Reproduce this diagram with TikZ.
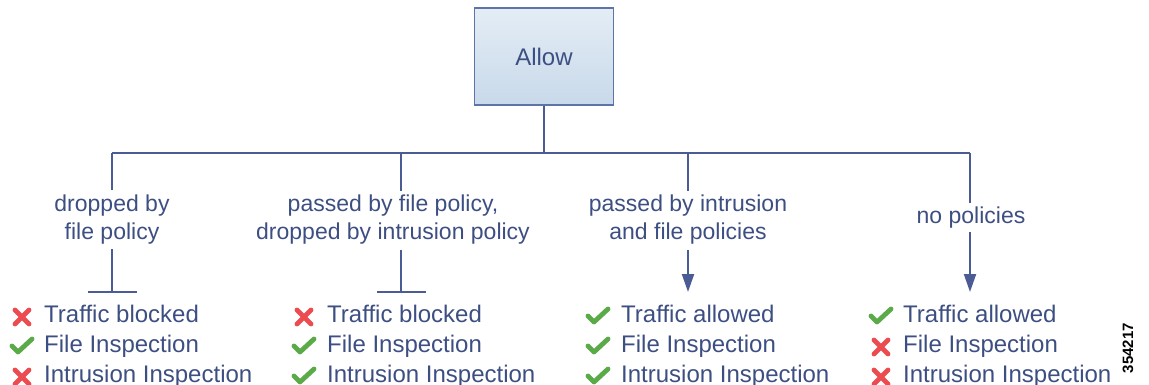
\documentclass[tikz,border=0pt]{standalone}
\usepackage{fontspec}
\setmainfont{Liberation Sans}
\usetikzlibrary{arrows.meta, positioning}

\definecolor{linecol}{HTML}{4A5C93}
\definecolor{textcol}{HTML}{3D4F82}
\definecolor{boxtop}{HTML}{E4EDF5}
\definecolor{boxbot}{HTML}{C8D9EA}
\definecolor{boxedge}{HTML}{5E73A6}
\definecolor{crossred}{HTML}{EC4B4F}
\definecolor{tickgreen}{HTML}{5AAA48}

\tikzset{
    wire/.style={linecol, line width=2pt},
    branchlabel/.style={text=textcol, font=\fontsize{23}{28}\selectfont, align=center, inner sep=0pt},
    itemtext/.style={text=textcol, font=\fontsize{24}{30}\selectfont, anchor=base west, inner sep=0pt},
    cross/.pic={\draw[crossred, line width=4.8pt, line cap=round] (-7,-7) -- (7,7) (-7,7) -- (7,-7);},
    tick/.pic={\draw[tickgreen, line width=4.8pt, line cap=round, line join=round] (-10,0) -- (-4,6) -- (10,-7);},
}

\begin{document}
\begin{tikzpicture}[x=1pt, y=-1pt]
    \useasboundingbox (0,0) rectangle (1149,385);
    %%% Top box
    \node[draw=boxedge, line width=1.8pt, top color=boxtop, bottom color=boxbot, minimum width=139pt, minimum height=97pt, text=textcol, font=\fontsize{24}{28}\selectfont] (allow) at (544,56.5) {Allow};
    \coordinate (hub) at (544,153);
    \coordinate (b1) at (112,153);
    \coordinate (b2) at (401,153);
    \coordinate (b3) at (688,153);
    \coordinate (b4) at (970,153);
    \draw[wire] (allow.south) -- (hub);
    \draw[wire] (b1) -- (b4);
    %
    %%% Branch labels
    \node[branchlabel] (lab1) at (112,220) {dropped by\\file policy};
    \node[branchlabel] (lab2) at (393,220) {passed by file policy,\\dropped by intrusion policy};
    \node[branchlabel] (lab3) at (688,220) {passed by intrusion\\and file policies};
    \node[branchlabel] (lab4) at (971,218) {no policies};
    \draw[wire] (b1) -- (112,190);
    \draw[wire] (b2) -- (401,191);
    \draw[wire] (b3) -- (688,191);
    \draw[wire] (b4) -- (970,203);
    %
    %%% Ends: blocked (bar) or passed (arrow)
    \coordinate (e1) at (112,292);
    \coordinate (e2) at (401,292);
    \draw[wire] (112,249) -- (e1); % bar
    \draw[wire] (88,292) -- (137,292);
    \draw[wire] (401,250) -- (e2); % bar
    \draw[wire] (377,292) -- (426,292);
    \draw[wire, -{Triangle[length=18pt, width=12pt]}] (688,250) -- (688,292);
    \draw[wire, -{Triangle[length=18pt, width=12pt]}] (970,232) -- (970,292);
    %
    %%% First list
    \pic at (22,317) {cross};
    \pic at (22,346) {tick};
    \pic at (22,377) {cross};
    \node[itemtext] (l1a) at (44,322) {Traffic blocked};
    \node[itemtext] (l1b) at (44,352) {File Inspection};
    \node[itemtext] (l1c) at (44,382) {Intrusion Inspection};
    %
    %%% Second list
    \pic at (304,317) {cross};
    \pic at (304,346) {tick};
    \pic at (304,376) {tick};
    \node[itemtext] (l2a) at (327,322) {Traffic blocked};
    \node[itemtext] (l2b) at (327,352) {File Inspection};
    \node[itemtext] (l2c) at (327,382) {Intrusion Inspection};
    %
    %%% Third list
    \pic at (598,316) {tick};
    \pic at (598,346) {tick};
    \pic at (598,376) {tick};
    \node[itemtext] (l3a) at (621,322) {Traffic allowed};
    \node[itemtext] (l3b) at (621,352) {File Inspection};
    \node[itemtext] (l3c) at (621,382) {Intrusion Inspection};
    %
    %%% Fourth list
    \pic at (881,316) {tick};
    \pic at (881,347) {cross};
    \pic at (881,377) {cross};
    \node[itemtext] (l4a) at (903,322) {Traffic allowed};
    \node[itemtext] (l4b) at (903,352) {File Inspection};
    \node[itemtext] (l4c) at (903,382) {Intrusion Inspection};
    %
    \node[rotate=90, font=\bfseries\fontsize{15}{15}\selectfont, inner sep=0pt] (figno) at (1128,348) {354217};
\end{tikzpicture}
\end{document}
